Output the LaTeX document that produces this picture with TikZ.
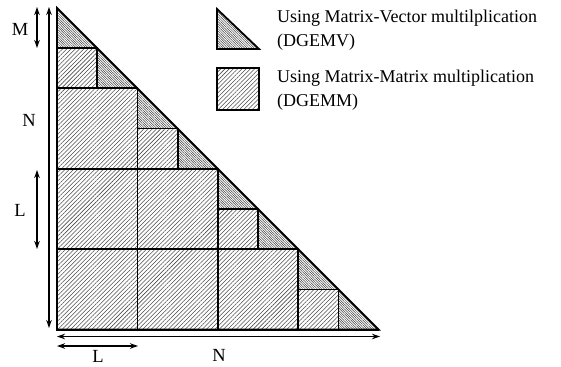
\documentclass[tikz,border=0pt]{standalone}
\usepackage{fontspec}
\setmainfont{Liberation Serif}
\usetikzlibrary{patterns.meta,arrows.meta}
\begin{document}
\begin{tikzpicture}[x=1pt,y=-1pt,
  mv/.style={pattern={Lines[angle=-45,distance=1.7pt,line width=0.5pt]},pattern color=black!75},
  mm/.style={pattern={Lines[angle=45,distance=3pt,line width=0.55pt]},pattern color=black!70},
  edge/.style={line width=1.8pt,line join=miter},
  dim/.style={line width=1.2pt,{Stealth[length=8pt,width=5.5pt]}-{Stealth[length=8pt,width=5.5pt]}},
  lbl/.style={font=\fontsize{18.5}{23}\selectfont,inner sep=0pt},
  leg/.style={font=\fontsize{18}{24}\selectfont,inner sep=0pt,anchor=base west}]
\useasboundingbox (0,0) rectangle (561,366);
% main figure
\begin{scope}[shift={(57,8)},x=40.2pt,y=-40.2pt]
  \foreach \i in {0,...,7}{
    \fill[mv] (\i,\i) -- (\i,\i+1) -- (\i+1,\i+1) -- cycle;
  }
  \foreach \a/\b/\c/\d in {0/1/1/2, 2/3/3/4, 4/5/5/6, 6/7/7/8,
                           0/2/2/4, 4/6/6/8,
                           0/4/2/6, 2/4/4/6, 0/6/2/8, 2/6/4/8}{
    \fill[mm] (\a,\b) rectangle (\c,\d);
  }
  \foreach \a/\b/\c/\d in {0/1/1/2, 2/3/3/4, 4/5/5/6, 6/7/7/8,
                           0/2/2/4, 4/6/6/8,
                           0/4/2/6, 2/4/4/6, 0/6/2/8, 2/6/4/8}{
    \draw[edge] (\a,\b) rectangle (\c,\d);
  }
  \foreach \i in {0,...,7}{
    \draw[edge] (\i,\i) -- (\i,\i+1) -- (\i+1,\i+1);
  }
  \draw[edge] (0,0) -- (0,8) -- (8,8) -- cycle;
\end{scope}
% dimension arrows
\coordinate (m1) at (37,7);
\coordinate (m2) at (37,48);
\coordinate (n1) at (49,7);
\coordinate (n2) at (49,328);
\coordinate (l1) at (37,170);
\coordinate (l2) at (37,249);
\coordinate (bn1) at (57,336.5);
\coordinate (bn2) at (380,336.5);
\coordinate (bl1) at (57,346);
\coordinate (bl2) at (138,346);
\draw[dim] (m1) -- (m2);
\draw[dim] (n1) -- (n2);
\draw[dim] (l1) -- (l2);
\draw[dim] (bn1) -- (bn2);
\draw[dim] (bl1) -- (bl2);
\node[lbl] (lm) at (20,29) {M};
\node[lbl] (ln) at (29,120) {N};
\node[lbl] (ll) at (20,210) {L};
\node[lbl] (lbn) at (219,355) {N};
\node[lbl] (lbl) at (98,356.5) {L};
% legend
\draw[edge,mv] (217,9) -- (217,49) -- (259,49) -- cycle;
\fill[mm] (217,68) rectangle (259,110);
\draw[edge] (217,68) rectangle (259,110);
\node[leg] (t1a) at (277,23) {Using Matrix-Vector multilplication};
\node[leg] (t1b) at (277,47) {(DGEMV)};
\node[leg] (t2a) at (277,83) {Using Matrix-Matrix multiplication};
\node[leg] (t2b) at (277,107) {(DGEMM)};
\end{tikzpicture}
\end{document}
